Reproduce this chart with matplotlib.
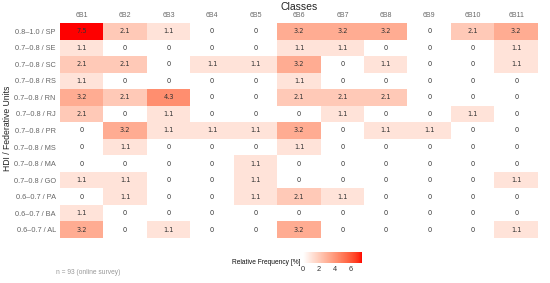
import numpy as np
import matplotlib
matplotlib.use("Agg")
import matplotlib.pyplot as plt
from matplotlib.colors import ListedColormap

plt.rcParams['font.family'] = ['Liberation Sans', 'DejaVu Sans']

# Data
classes = ["6B1", "6B2", "6B3", "6B4", "6B5", "6B6", "6B7", "6B8", "6B9", "6B10", "6B11"]
units = ["0.8–1.0 / SP", "0.7–0.8 / SE", "0.7–0.8 / SC", "0.7–0.8 / RS", "0.7–0.8 / RN",
         "0.7–0.8 / RJ", "0.7–0.8 / PR", "0.7–0.8 / MS", "0.7–0.8 / MA", "0.7–0.8 / GO",
         "0.6–0.7 / PA", "0.6–0.7 / BA", "0.6–0.7 / AL"]
sp = [7.5, 2.1, 1.1, 0, 0, 3.2, 3.2, 3.2, 0, 2.1, 3.2]
se = [1.1, 0, 0, 0, 0, 1.1, 1.1, 0, 0, 0, 1.1]
sc = [2.1, 2.1, 0, 1.1, 1.1, 3.2, 0, 1.1, 0, 0, 1.1]
rs = [1.1, 0, 0, 0, 0, 1.1, 0, 0, 0, 0, 0]
rn = [3.2, 2.1, 4.3, 0, 0, 2.1, 2.1, 2.1, 0, 0, 0]
rj = [2.1, 0, 1.1, 0, 0, 0, 1.1, 0, 0, 1.1, 0]
pr = [0, 3.2, 1.1, 1.1, 1.1, 3.2, 0, 1.1, 1.1, 0, 0]
ms = [0, 1.1, 0, 0, 0, 1.1, 0, 0, 0, 0, 0]
ma = [0, 0, 0, 0, 1.1, 0, 0, 0, 0, 0, 0]
go = [1.1, 1.1, 0, 0, 1.1, 0, 0, 0, 0, 0, 1.1]
pa = [0, 1.1, 0, 0, 1.1, 2.1, 1.1, 0, 0, 0, 0]
ba = [1.1, 0, 0, 0, 0, 0, 0, 0, 0, 0, 0]
al = [3.2, 0, 1.1, 0, 0, 3.2, 0, 0, 0, 0, 1.1]
values = np.array([sp, se, sc, rs, rn, rj, pr, ms, ma, go, pa, ba, al])


# white -> red gradient interpolated in Lab space (like ggplot's scale_fill_gradient)
def srgb_to_lab(rgb):
    c = np.asarray(rgb, float)
    c = np.where(c > 0.04045, ((c + 0.055) / 1.055) ** 2.4, c / 12.92)
    m = np.array([[0.4124, 0.3576, 0.1805],
                  [0.2126, 0.7152, 0.0722],
                  [0.0193, 0.1192, 0.9505]])
    xyz = m @ c / np.array([0.95047, 1.0, 1.08883])
    f = np.where(xyz > 0.008856, np.cbrt(xyz), 7.787 * xyz + 16 / 116)
    return np.array([116 * f[1] - 16, 500 * (f[0] - f[1]), 200 * (f[1] - f[2])])


def lab_to_srgb(lab):
    L, a, b = lab
    fy = (L + 16) / 116
    fx = fy + a / 500
    fz = fy - b / 200
    f = np.array([fx, fy, fz])
    xyz = np.where(f ** 3 > 0.008856, f ** 3, (f - 16 / 116) / 7.787)
    xyz = xyz * np.array([0.95047, 1.0, 1.08883])
    m = np.array([[3.2406, -1.5372, -0.4986],
                  [-0.9689, 1.8758, 0.0415],
                  [0.0557, -0.2040, 1.0570]])
    c = m @ xyz
    c = np.where(c > 0.0031308, 1.055 * np.clip(c, 0, None) ** (1 / 2.4) - 0.055, 12.92 * c)
    return np.clip(c, 0, 1)


lab0 = srgb_to_lab([1, 1, 1])
lab1 = srgb_to_lab([1, 0, 0])
cols = [lab_to_srgb(lab0 + t * (lab1 - lab0)) for t in np.linspace(0, 1, 256)]
cmap = ListedColormap(cols)

W, H = 550, 283
fig = plt.figure(figsize=(W / 100, H / 100), dpi=100)
fig.patch.set_facecolor("white")

ax = fig.add_axes([60 / W, 1 - 238 / H, 478 / W, 215 / H])
vmax = 7.5
im = ax.imshow(values, cmap=cmap, vmin=0, vmax=vmax, aspect="auto",
               interpolation="nearest")

for i in range(values.shape[0]):
    for j in range(values.shape[1]):
        v = values[i, j]
        txt = "0" if v == 0 else f"{v:.1f}"
        ax.text(j, i, txt, ha="center", va="center", fontsize=4.8,
                family="DejaVu Sans", color="#333333")

ax.set_xticks(range(len(classes)))
ax.set_xticklabels(classes, fontsize=5, color="#666666")
ax.xaxis.tick_top()
ax.set_yticks(range(len(units)))
ax.set_yticklabels(units, fontsize=5.3, color="#666666")
ax.tick_params(length=0, pad=3)
for s in ax.spines.values():
    s.set_visible(False)

fig.text(299 / W, 1 - 7.5 / H, "Classes", ha="center", va="center", fontsize=7.5, color="#222222")
fig.text(8 / W, 1 - 128 / H, "HDI / Federative Units", ha="center", va="center",
         rotation=90, fontsize=6.2, color="#222222")

# Colorbar
cax = fig.add_axes([303 / W, 1 - 263 / H, 59 / W, 11 / H])
cb = fig.colorbar(im, cax=cax, orientation="horizontal", ticks=[0, 2, 4, 6])
cb.outline.set_visible(False)
cax.tick_params(length=0, labelsize=5.3, colors="#333333", pad=2)
fig.text(300 / W, 1 - 263 / H, "Relative Frequency [%]", ha="right", va="center",
         fontsize=4.8, color="#111111")

fig.text(56 / W, 1 - 273 / H, "n = 93 (online survey)", ha="left", va="center",
         fontsize=4.8, color="#999999")

fig.savefig("out.png", dpi=100)
